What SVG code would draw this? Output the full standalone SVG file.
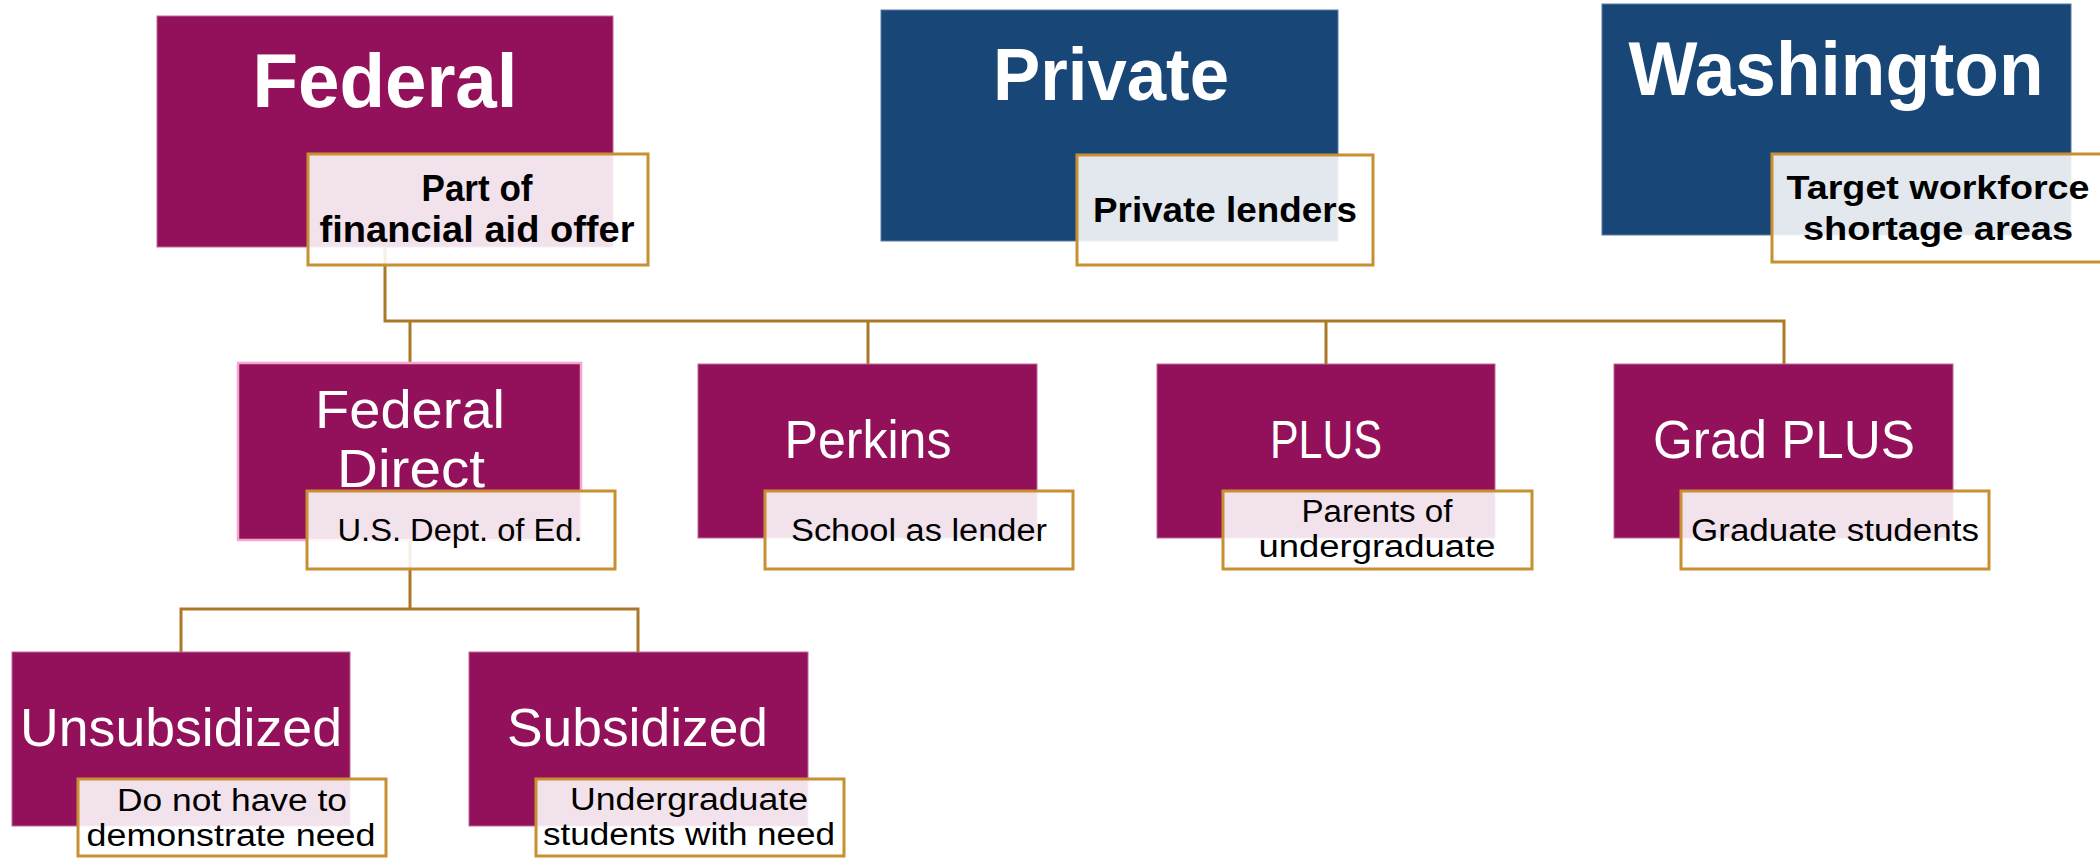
<svg xmlns="http://www.w3.org/2000/svg" width="2100" height="858" viewBox="0 0 2100 858">
<style>
.mag{fill:#93115a;stroke:#c06a98;stroke-width:1}
.blue{fill:#174677;stroke:#5a7ca0;stroke-width:1}
.lbl{fill:#ffffff;fill-opacity:0.88;stroke:#c98f33;stroke-width:3}
.conn{fill:none;stroke:#ab7828;stroke-width:3}
.tb{font-family:"Liberation Sans",Arial,sans-serif;font-weight:bold;fill:#ffffff;text-anchor:middle}
.tl{font-family:"Liberation Sans",Arial,sans-serif;fill:#ffffff;text-anchor:middle}
.lb{font-family:"Liberation Sans",Arial,sans-serif;font-weight:bold;fill:#000000;text-anchor:middle}
.ll{font-family:"Liberation Sans",Arial,sans-serif;fill:#000000;text-anchor:middle}
</style>
<rect width="2100" height="858" fill="#ffffff"/>
<g id="connectors">
<path class="conn" d="M385 247 V321 M383.5 321 H1785.5 M410 321 V363 M868 321 V364 M1326 321 V364 M1784 321 V364"/>
<path class="conn" d="M410 540 V609 M179.5 609 H639.5 M181 609 V652 M638 609 V652"/>
</g>
<g id="federal">
<rect class="mag" x="157" y="16" width="456" height="231"/>
<text class="tb" x="385" y="107" font-size="76" textLength="265" lengthAdjust="spacingAndGlyphs">Federal</text>
<rect class="lbl" x="308" y="154" width="340" height="111"/>
<text class="lb" x="477" y="201" font-size="36" textLength="111" lengthAdjust="spacingAndGlyphs">Part of</text>
<text class="lb" x="477" y="242" font-size="36" textLength="315" lengthAdjust="spacingAndGlyphs">financial aid offer</text>
</g>
<g id="private">
<rect class="blue" x="881" y="10" width="457" height="231"/>
<text class="tb" x="1111" y="100" font-size="74" textLength="236" lengthAdjust="spacingAndGlyphs">Private</text>
<rect class="lbl" x="1077" y="155" width="296" height="110"/>
<text class="lb" x="1225" y="222" font-size="35" textLength="264" lengthAdjust="spacingAndGlyphs">Private lenders</text>
</g>
<g id="washington">
<rect class="blue" x="1602" y="4" width="469" height="231"/>
<text class="tb" x="1836" y="95" font-size="76" textLength="415" lengthAdjust="spacingAndGlyphs">Washington</text>
<rect class="lbl" x="1772" y="154" width="340" height="108"/>
<text class="lb" x="1938" y="199" font-size="34" textLength="303" lengthAdjust="spacingAndGlyphs">Target workforce</text>
<text class="lb" x="1938" y="240" font-size="34" textLength="270" lengthAdjust="spacingAndGlyphs">shortage areas</text>
</g>
<g id="federal-direct">
<rect x="238" y="363" width="343" height="177" fill="#93115a" stroke="#f2a6d0" stroke-width="2.5"/>
<text class="tl" x="410" y="428" font-size="53" textLength="190" lengthAdjust="spacingAndGlyphs">Federal</text>
<text class="tl" x="411" y="487" font-size="53" textLength="148" lengthAdjust="spacingAndGlyphs">Direct</text>
<rect class="lbl" x="307" y="491" width="308" height="78"/>
<text class="ll" x="460" y="541" font-size="31" textLength="245" lengthAdjust="spacingAndGlyphs">U.S. Dept. of Ed.</text>
</g>
<g id="perkins">
<rect class="mag" x="698" y="364" width="339" height="174"/>
<text class="tl" x="868" y="458" font-size="53" textLength="167" lengthAdjust="spacingAndGlyphs">Perkins</text>
<rect class="lbl" x="765" y="491" width="308" height="78"/>
<text class="ll" x="919" y="541" font-size="31" textLength="256" lengthAdjust="spacingAndGlyphs">School as lender</text>
</g>
<g id="plus">
<rect class="mag" x="1157" y="364" width="338" height="174"/>
<text class="tl" x="1326" y="458" font-size="53" textLength="112" lengthAdjust="spacingAndGlyphs">PLUS</text>
<rect class="lbl" x="1223" y="491" width="309" height="78"/>
<text class="ll" x="1377" y="522" font-size="31" textLength="151" lengthAdjust="spacingAndGlyphs">Parents of</text>
<text class="ll" x="1377" y="557" font-size="31" textLength="237" lengthAdjust="spacingAndGlyphs">undergraduate</text>
</g>
<g id="grad-plus">
<rect class="mag" x="1614" y="364" width="339" height="174"/>
<text class="tl" x="1784" y="458" font-size="53" textLength="262" lengthAdjust="spacingAndGlyphs">Grad PLUS</text>
<rect class="lbl" x="1681" y="491" width="308" height="78"/>
<text class="ll" x="1835" y="541" font-size="31" textLength="288" lengthAdjust="spacingAndGlyphs">Graduate students</text>
</g>
<g id="unsubsidized">
<rect class="mag" x="12" y="652" width="338" height="174"/>
<text class="tl" x="181" y="746" font-size="53" textLength="322" lengthAdjust="spacingAndGlyphs">Unsubsidized</text>
<rect class="lbl" x="78" y="779" width="308" height="77"/>
<text class="ll" x="232" y="811" font-size="31" textLength="230" lengthAdjust="spacingAndGlyphs">Do not have to</text>
<text class="ll" x="231" y="846" font-size="31" textLength="289" lengthAdjust="spacingAndGlyphs">demonstrate need</text>
</g>
<g id="subsidized">
<rect class="mag" x="469" y="652" width="339" height="174"/>
<text class="tl" x="637.5" y="746" font-size="53" textLength="261" lengthAdjust="spacingAndGlyphs">Subsidized</text>
<rect class="lbl" x="536" y="779" width="308" height="77"/>
<text class="ll" x="689" y="810" font-size="31" textLength="238" lengthAdjust="spacingAndGlyphs">Undergraduate</text>
<text class="ll" x="689" y="845" font-size="31" textLength="292" lengthAdjust="spacingAndGlyphs">students with need</text>
</g>
</svg>
